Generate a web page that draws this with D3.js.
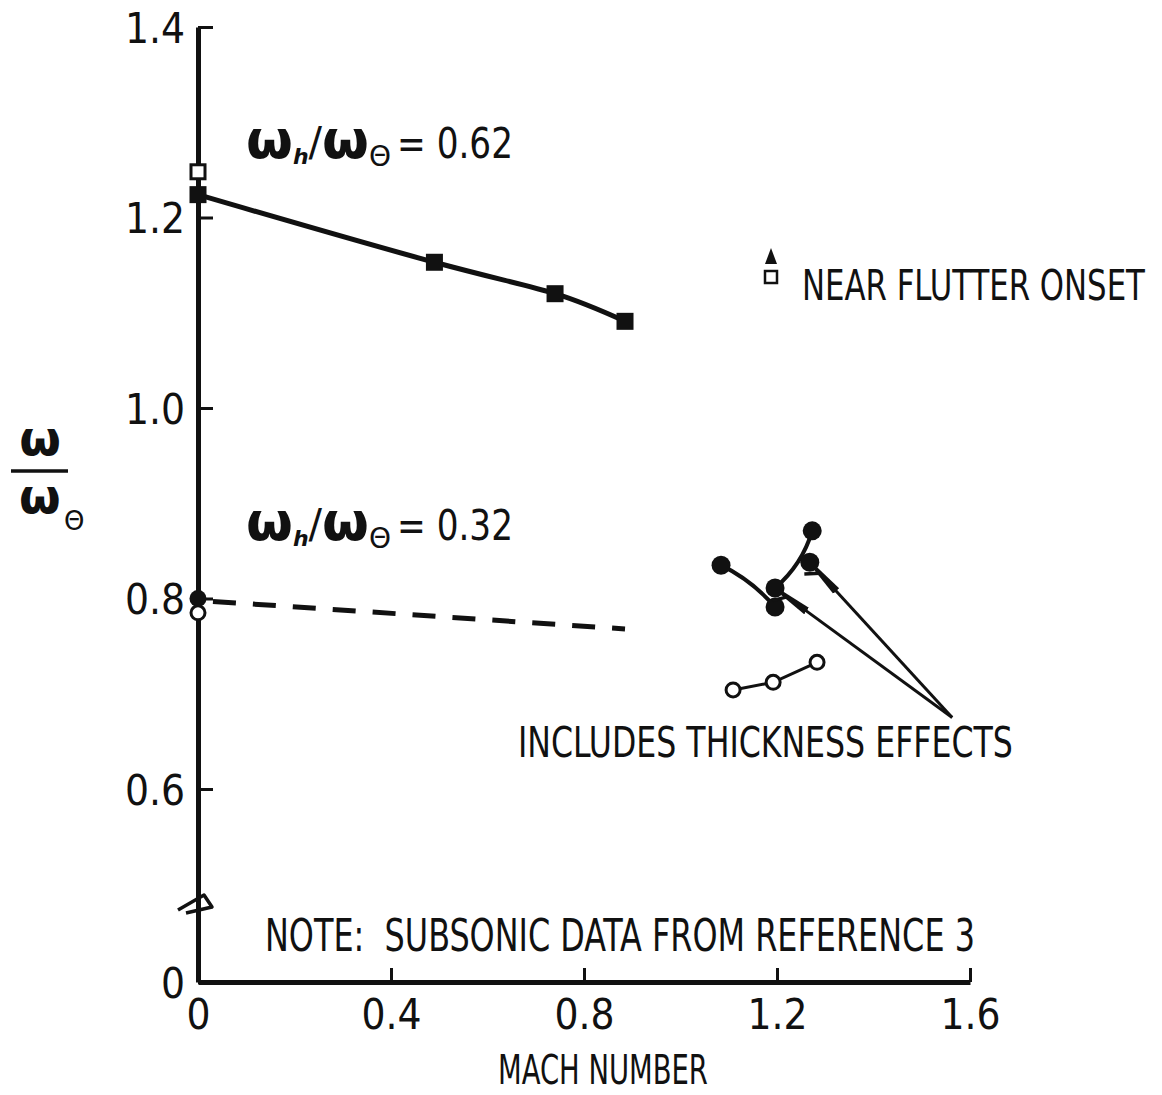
<!DOCTYPE html>
<html>
<head>
<meta charset="utf-8">
<script src="https://cdn.jsdelivr.net/npm/d3@7"></script>
<style>
  html, body { margin: 0; padding: 0; background: #fff; }
  svg { display: block; }
  .tw { font-family: "Liberation Sans Narrow", "DejaVu Sans Condensed", "Liberation Sans", sans-serif; fill: #111; }
  .gk { font-family: "DejaVu Sans", sans-serif; fill: #111; }
</style>
</head>
<body>
<svg id="chart" width="1162" height="1095"></svg>
<script>
// ---------- data ----------
const machTicks  = [0, 0.4, 0.8, 1.2, 1.6];
const ratioTicks = [0, 0.6, 0.8, 1.0, 1.2, 1.4];

// omega_h/omega_theta = 0.62 (subsonic, solid line, filled squares)
const highMach  = [0, 0.49, 0.74, 0.885];
const highRatio = [1.224, 1.153, 1.12, 1.091];
// near flutter onset (open square)
const highOnsetMach  = [0];
const highOnsetRatio = [1.248];

// omega_h/omega_theta = 0.32 (subsonic, dashed)
const lowDashMach  = [0, 0.885];
const lowDashRatio = [0.798, 0.768];
const lowFilledMach  = [0];
const lowFilledRatio = [0.80];
const lowOpenMach  = [0];
const lowOpenRatio = [0.785];

// supersonic, includes thickness effects (filled circles)
const thickAMach  = [1.084, 1.196];
const thickARatio = [0.835, 0.791];
const thickBMach  = [1.196, 1.273];
const thickBRatio = [0.811, 0.871];
const thickPtMach  = [1.268];
const thickPtRatio = [0.838];

// supersonic, open circles
const openSupMach  = [1.109, 1.192, 1.283];
const openSupRatio = [0.704, 0.712, 0.733];

// arrows: from note text to points
const arrowTail = [1.563, 0.675];
const arrowHeadsMach  = [1.196, 1.268];
const arrowHeadsRatio = [0.811, 0.838];

// ---------- chart ----------
const svg = d3.select("#chart");
const x = d3.scaleLinear().domain([0, 1.6]).range([198, 970]);
// broken ordinate: 0 .. 0.6 compressed
const y = d3.scaleLinear().domain([0, 0.6, 1.4]).range([982, 789, 27]);

const zip = (a, b) => a.map((v, i) => [v, b[i]]);
const ink = "#111";

// Axes
const yAxis = d3.axisLeft(y).tickValues(ratioTicks)
  .tickSizeInner(-15).tickSizeOuter(0).tickPadding(13)
  .tickFormat(d => d === 0 ? "0" : d3.format(".1f")(d));
const gy = svg.append("g").attr("transform", "translate(198,0)").call(yAxis);
gy.select(".domain").attr("stroke", ink).attr("stroke-width", 5);
gy.selectAll(".tick line").attr("stroke", ink).attr("stroke-width", 3);
gy.selectAll(".tick text").attr("class", "tw").attr("font-size", 42)
  .attr("dy", "0.36em").style("fill", ink);

const xAxis = d3.axisBottom(x).tickValues(machTicks)
  .tickSizeInner(-14).tickSizeOuter(0).tickPadding(17)
  .tickFormat(d => d === 0 ? "0" : d3.format(".1f")(d));
const gx = svg.append("g").attr("transform", "translate(0,982)").call(xAxis);
gx.select(".domain").attr("stroke", ink).attr("stroke-width", 5);
gx.selectAll(".tick line").attr("stroke", ink).attr("stroke-width", 3);
gx.selectAll(".tick text").attr("class", "tw").attr("font-size", 42).style("fill", ink);

// axis break symbol
const bx = 198, by = 905;
svg.append("path")
  .attr("d", `M${bx-20},${by+5} L${bx+6},${by-10} L${bx+14},${by+2} L${bx-12},${by+8}`)
  .attr("fill", "none").attr("stroke", ink).attr("stroke-width", 3.5).attr("stroke-linejoin", "round");

// Solid curve 0.62
svg.append("path")
  .datum(zip(highMach, highRatio))
  .attr("d", d3.line().x(d => x(d[0])).y(d => y(d[1])).curve(d3.curveNatural))
  .attr("fill", "none").attr("stroke", ink).attr("stroke-width", 5);

svg.selectAll(".sqf").data(zip(highMach, highRatio)).join("rect")
  .attr("x", d => x(d[0]) - 8.5).attr("y", d => y(d[1]) - 8.5)
  .attr("width", 17).attr("height", 17).attr("fill", ink);

svg.selectAll(".sqo").data(zip(highOnsetMach, highOnsetRatio)).join("rect")
  .attr("x", d => x(d[0]) - 7).attr("y", d => y(d[1]) - 7)
  .attr("width", 14).attr("height", 14).attr("fill", "#fff")
  .attr("stroke", ink).attr("stroke-width", 3);

// Dashed 0.32
svg.append("path")
  .datum(zip(lowDashMach, lowDashRatio))
  .attr("d", d3.line().x(d => x(d[0])).y(d => y(d[1])))
  .attr("fill", "none").attr("stroke", ink).attr("stroke-width", 5)
  .attr("stroke-dasharray", "23,17").attr("stroke-dashoffset", 25);

svg.selectAll(".lowOpen").data(zip(lowOpenMach, lowOpenRatio)).join("circle")
  .attr("cx", d => x(d[0])).attr("cy", d => y(d[1])).attr("r", 7)
  .attr("fill", "#fff").attr("stroke", ink).attr("stroke-width", 3);
svg.selectAll(".lowFill").data(zip(lowFilledMach, lowFilledRatio)).join("circle")
  .attr("cx", d => x(d[0])).attr("cy", d => y(d[1])).attr("r", 8.5).attr("fill", ink);

// Supersonic thickness curves
function bentPath(pts, bend) {
  const [p0, p1] = pts.map(d => [x(d[0]), y(d[1])]);
  const mx = (p0[0] + p1[0]) / 2, my = (p0[1] + p1[1]) / 2;
  const dx = p1[0] - p0[0], dy = p1[1] - p0[1];
  const len = Math.hypot(dx, dy);
  const cx = mx + (-dy / len) * bend, cy = my + (dx / len) * bend;
  return `M${p0[0]},${p0[1]} Q${cx},${cy} ${p1[0]},${p1[1]}`;
}
svg.append("path").attr("d", bentPath(zip(thickAMach, thickARatio), -7))
  .attr("fill", "none").attr("stroke", ink).attr("stroke-width", 4);
svg.append("path").attr("d", bentPath(zip(thickBMach, thickBRatio), 10))
  .attr("fill", "none").attr("stroke", ink).attr("stroke-width", 4);

svg.selectAll(".thA")
  .data(zip(thickAMach, thickARatio).concat(zip(thickBMach, thickBRatio), zip(thickPtMach, thickPtRatio)))
  .join("circle")
  .attr("cx", d => x(d[0])).attr("cy", d => y(d[1])).attr("r", 9.5).attr("fill", ink);

// open supersonic circles
svg.append("path")
  .datum(zip(openSupMach, openSupRatio))
  .attr("d", d3.line().x(d => x(d[0])).y(d => y(d[1])))
  .attr("fill", "none").attr("stroke", ink).attr("stroke-width", 3);
svg.selectAll(".openSup").data(zip(openSupMach, openSupRatio)).join("circle")
  .attr("cx", d => x(d[0])).attr("cy", d => y(d[1])).attr("r", 7)
  .attr("fill", "#fff").attr("stroke", ink).attr("stroke-width", 3);

// Arrows
const mk = svg.append("defs").append("marker")
  .attr("id", "ah").attr("viewBox", "0 -8 36 22").attr("refX", 30).attr("refY", 6)
  .attr("markerWidth", 36).attr("markerHeight", 22).attr("markerUnits", "userSpaceOnUse")
  .attr("orient", "auto");
mk.append("path").attr("d", "M0,2 L30,4 L30,8 L0,10 Z").attr("fill", ink);
mk.append("path").attr("d", "M24,6 L34,-6").attr("stroke", ink).attr("stroke-width", 3.5).attr("fill", "none");

zip(arrowHeadsMach, arrowHeadsRatio).forEach(h => {
  const tx = x(arrowTail[0]), ty = y(arrowTail[1]);
  const hx = x(h[0]), hy = y(h[1]);
  const L = Math.hypot(hx - tx, hy - ty);
  const ex = hx - (hx - tx) / L * 9, ey = hy - (hy - ty) / L * 9;
  svg.append("line").attr("x1", tx).attr("y1", ty).attr("x2", ex).attr("y2", ey)
    .attr("stroke", ink).attr("stroke-width", 3).attr("marker-end", "url(#ah)");
});

// ---------- text ----------
// fit a text horizontally to a target width using a scale transform
function fitText(str, x0, y0, size, width, anchor) {
  const t = svg.append("text").attr("class", "tw").attr("x", 0).attr("y", 0)
    .attr("font-size", size).attr("xml:space", "preserve").style("white-space", "pre").text(str);
  const w = t.node().getComputedTextLength();
  const s = width / w;
  const left = anchor === "middle" ? x0 - width / 2 : x0;
  t.attr("transform", `translate(${left},${y0}) scale(${s},1)`);
  return t;
}

function ratioLabel(xp, yp, val) {
  const t = svg.append("text").attr("class", "gk").attr("x", xp).attr("y", yp)
    .attr("font-weight", "bold").attr("font-size", 54);
  t.append("tspan").text("ω");
  t.append("tspan").attr("font-size", 22).attr("font-style", "italic").attr("dy", 6).text("h");
  t.append("tspan").attr("font-size", 40).attr("font-weight", "normal").attr("dy", -8).text("/");
  t.append("tspan").attr("dy", 2).text("ω");
  t.append("tspan").attr("font-size", 28).attr("font-weight", "normal").attr("dy", 8).text("Θ");
  fitText("= " + val, 397, yp, 42, 116);
}
ratioLabel(246, 158, "0.62");
ratioLabel(246, 540, "0.32");

// y axis label (fraction)
const yl = svg.append("g");
yl.append("text").attr("class", "gk").attr("x", 40).attr("y", 455)
  .attr("text-anchor", "middle").attr("font-weight", "bold").attr("font-size", 48).text("ω");
yl.append("line").attr("x1", 11).attr("x2", 68).attr("y1", 471).attr("y2", 471)
  .attr("stroke", ink).attr("stroke-width", 3.5);
yl.append("text").attr("class", "gk").attr("x", 19).attr("y", 513)
  .attr("font-weight", "bold").attr("font-size", 48).text("ω");
yl.append("text").attr("class", "gk").attr("x", 64).attr("y", 530)
  .attr("font-size", 26).text("Θ");

fitText("MACH NUMBER", 603, 1084, 40, 210, "middle");
fitText("NOTE:  SUBSONIC DATA FROM REFERENCE 3", 265, 951, 45, 710);
fitText("INCLUDES THICKNESS EFFECTS", 518, 757, 43, 495);

// legend
svg.append("path").attr("d", "M771,248 L777,264 L765,264 Z").attr("fill", ink);
svg.append("rect").attr("x", 765).attr("y", 271).attr("width", 12).attr("height", 12)
  .attr("fill", "#fff").attr("stroke", ink).attr("stroke-width", 2.5);
fitText("NEAR FLUTTER ONSET", 802, 300, 43, 343);
</script>
</body>
</html>
